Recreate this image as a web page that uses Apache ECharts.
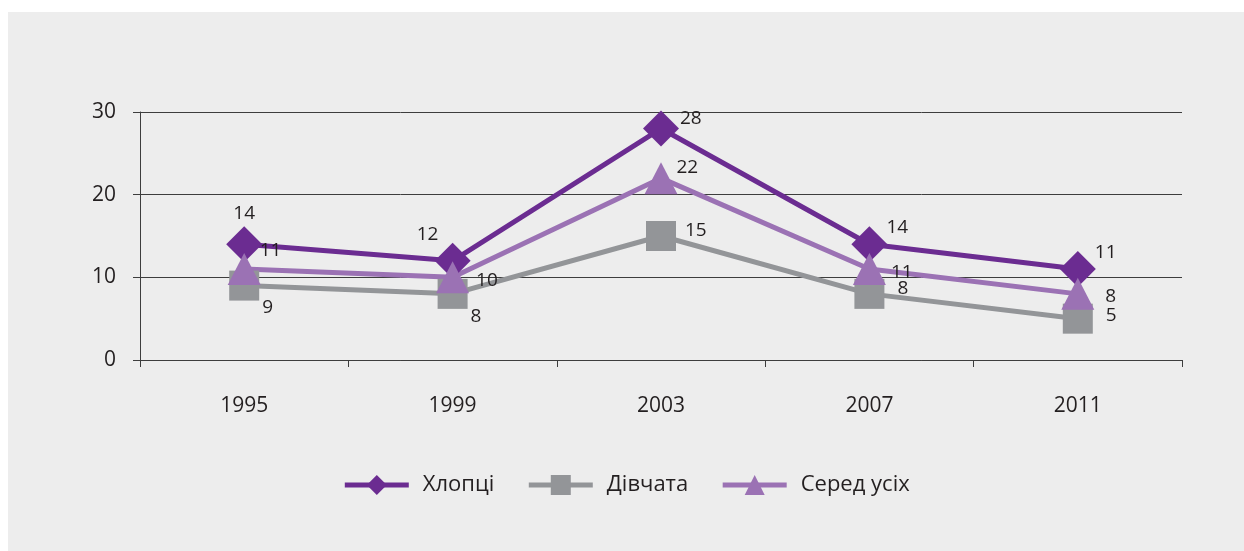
<!DOCTYPE html>
<html>
<head>
<meta charset="utf-8">
<script src="https://cdn.jsdelivr.net/npm/echarts@6/dist/echarts.min.js"></script>
<style>
  html, body { margin: 0; padding: 0; background: #ffffff; }
  #chart { position: absolute; left: 8px; top: 12px; width: 1236px; height: 539px; }
</style>
</head>
<body>
<div id="chart"></div>
<script>
// Survey years and shares per group
const years = ['1995', '1999', '2003', '2007', '2011'];
const boys = [14, 12, 28, 14, 11];      // Хлопці
const girls = [9, 8, 15, 8, 5];         // Дівчата
const all = [11, 10, 22, 11, 8];        // Серед усіх
const yTicks = [0, 10, 20, 30];

// Where each value label sits next to its marker: [position, dx, dy]
const boysLabelPlace = [['top', 0, 2], ['top', -25, 6], ['right', -4, -10], ['right', -6, -17], ['right', -6, -16]];
const girlsLabelPlace = [['right', -2, 22], ['right', -2, 23], ['right', 4, -5], ['right', 8, -5], ['right', 8, -3]];
const allLabelPlace = [['right', -6, -18], ['right', 2, 3], ['right', -6, -11], ['right', 0, 4], ['right', 6, 3]];

const textColor = '#231f20';
const axisColor = '#3d3d3d';

function seriesData(values, places) {
  return values.map((v, i) => ({
    value: v,
    label: {
      position: places[i][0],
      offset: [places[i][1], places[i][2]]
    }
  }));
}

function lineSeries(name, values, places, color, symbol, size) {
  return {
    name: name,
    type: 'line',
    data: seriesData(values, places),
    symbol: symbol,
    symbolSize: size,
    showAllSymbol: true,
    lineStyle: { color: color, width: 5 },
    itemStyle: { color: color },
    label: {
      show: true,
      color: textColor,
      fontSize: 19,
      fontFamily: 'Open Sans',
      distance: 5
    },
    emphasis: { disabled: true }
  };
}

const chart = echarts.init(document.getElementById('chart'));
chart.setOption({
  animation: false,
  backgroundColor: '#ededed',
  textStyle: { fontFamily: 'Open Sans', color: textColor },
  grid: { left: 132, right: 62, top: 100, bottom: 191 },
  legend: {
    bottom: 50,
    left: 'center',
    itemWidth: 64,
    itemHeight: 25,
    itemGap: 32,
    lineStyle: { width: 5 },
    textStyle: { fontSize: 22, color: textColor, fontFamily: 'Open Sans', padding: [0, 0, 0, 9] },
    data: ['Хлопці', 'Дівчата', 'Серед усіх']
  },
  xAxis: {
    type: 'category',
    data: years,
    boundaryGap: true,
    axisLine: { show: true, lineStyle: { color: axisColor, width: 1 } },
    axisTick: { show: true, length: 7, lineStyle: { color: axisColor } },
    axisLabel: { color: textColor, fontSize: 21, margin: 36 },
    splitLine: { show: false }
  },
  yAxis: {
    type: 'value',
    min: yTicks[0],
    max: yTicks[yTicks.length - 1],
    interval: yTicks[1] - yTicks[0],
    axisLine: { show: true, lineStyle: { color: axisColor, width: 1 } },
    axisTick: { show: true, length: 7, lineStyle: { color: axisColor } },
    axisLabel: { color: textColor, fontSize: 21, margin: 24 },
    splitLine: { show: true, lineStyle: { color: axisColor, width: 1 } }
  },
  series: [
    lineSeries('Хлопці', boys, boysLabelPlace, '#6b2c91', 'diamond', 36),
    lineSeries('Дівчата', girls, girlsLabelPlace, '#939598', 'rect', 30),
    lineSeries('Серед усіх', all, allLabelPlace, '#9b72b4', 'triangle', [33, 32])
  ]
});
</script>
</body>
</html>
